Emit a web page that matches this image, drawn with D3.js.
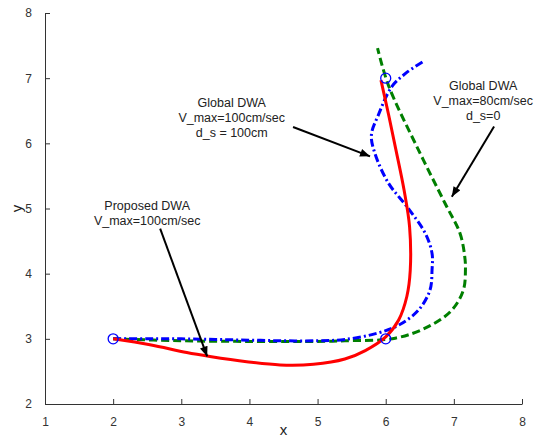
<!DOCTYPE html>
<html>
<head>
<meta charset="utf-8">
<script src="https://cdn.jsdelivr.net/npm/d3@7"></script>
<style>
  body { margin: 0; background: #fff; }
  text { font-family: "Liberation Sans", Arial, sans-serif; }
</style>
</head>
<body>
<div id="chart"></div>
<script>
// tick values
const xTicks = [1, 2, 3, 4, 5, 6, 7, 8];
const yTicks = [2, 3, 4, 5, 6, 7, 8];

// trajectories [x, y]
const proposedDwa = [[2, 3], [2.54, 2.91], [3.08, 2.79], [3.42, 2.73], [3.96, 2.65], [4.45, 2.6],
  [4.94, 2.61], [5.4, 2.69], [5.7, 2.82], [6.0, 3.03], [6.19, 3.29], [6.31, 3.65], [6.36, 4.05],
  [6.35, 4.72], [6.27, 5.28], [6.15, 5.9], [6.04, 6.45], [5.93, 6.97]];

const globalDwa100 = [[2, 3], [2.5, 3.0], [3, 3.0], [3.5, 2.99], [4, 2.98], [4.5, 2.97], [5, 2.97],
  [5.4, 2.99], [5.89, 3.09], [6.19, 3.21], [6.48, 3.44], [6.65, 3.75], [6.68, 4.06], [6.68, 4.31],
  [6.58, 4.62], [6.31, 5.03], [6.04, 5.39], [5.84, 5.85], [5.79, 6.13], [5.89, 6.43], [6.09, 6.87],
  [6.3, 7.08], [6.54, 7.25]];

const globalDwa80 = [[2, 3], [3, 2.97], [4, 2.96], [5, 2.96], [5.4, 2.97], [6.14, 3.01], [6.63, 3.19],
  [6.97, 3.44], [7.14, 3.75], [7.17, 4.06], [7.16, 4.26], [7.09, 4.62], [6.87, 5.08], [6.48, 5.9],
  [6.04, 6.89], [5.88, 7.46]];

// start / waypoint / goal markers
const waypoints = [[2, 3], [6, 3], [6, 7]];

// annotations: text lines, label anchor, arrow from -> to (data units)
const noteLabels = [
  ["Global DWA", "V_max=100cm/sec", "d_s = 100cm"],
  ["Global DWA", "V_max=80cm/sec", "d_s=0"],
  ["Proposed DWA", "V_max=100cm/sec"]
];
const noteAnchors = [[3.74, 6.62], [7.43, 6.89], [2.5, 5.04]];
const noteArrows = [
  [[4.64, 6.25], [5.77, 5.8]],
  [[7.59, 6.26], [6.97, 5.18]],
  [[2.69, 4.69], [3.38, 2.73]]
];

const margin = {top: 13, right: 20, bottom: 33, left: 45},
      width = 542 - margin.left - margin.right,
      height = 437 - margin.top - margin.bottom;

const svg = d3.select("#chart")
  .append("svg")
  .attr("width", 542)
  .attr("height", 437)
  .append("g")
  .attr("transform", `translate(${margin.left}, ${margin.top})`);

const x = d3.scaleLinear().domain([1, 8]).range([0, width]);
const y = d3.scaleLinear().domain([2, 8]).range([height, 0]);

// axes (ticks pointing inward)
const xAxis = svg.append("g")
  .attr("transform", `translate(0, ${height})`)
  .call(d3.axisBottom(x).tickValues(xTicks).tickFormat(d3.format("d"))
    .tickSize(-5).tickPadding(13).tickSizeOuter(0));
const yAxis = svg.append("g")
  .call(d3.axisLeft(y).tickValues(yTicks).tickFormat(d3.format("d"))
    .tickSize(-5).tickPadding(13).tickSizeOuter(0));

[xAxis, yAxis].forEach(a => {
  a.select(".domain").attr("stroke", "#333");
  a.selectAll(".tick line").attr("stroke", "#333");
  a.selectAll(".tick text")
    .attr("fill", "#333")
    .style("font-size", "12px")
    .style("font-family", "'Liberation Sans', Arial, sans-serif");
});

svg.append("text")
  .attr("x", width / 2)
  .attr("y", height + 31)
  .attr("text-anchor", "middle")
  .style("font-size", "15px")
  .attr("fill", "#222")
  .text("x");

svg.append("text")
  .attr("transform", "rotate(-90)")
  .attr("x", -y(5))
  .attr("y", -23)
  .attr("text-anchor", "middle")
  .style("font-size", "15px")
  .attr("fill", "#222")
  .text("y");

const line = d3.line()
  .x(d => x(d[0]))
  .y(d => y(d[1]))
  .curve(d3.curveCatmullRom.alpha(0.5));

svg.append("path")
  .datum(globalDwa80)
  .attr("d", line)
  .attr("fill", "none")
  .attr("stroke", "#007f00")
  .attr("stroke-width", 3)
  .attr("stroke-dasharray", "8,4");

svg.append("path")
  .datum(globalDwa100)
  .attr("d", line)
  .attr("fill", "none")
  .attr("stroke", "#0000ff")
  .attr("stroke-width", 3)
  .attr("stroke-dasharray", "8,3,2,3");

svg.append("path")
  .datum(proposedDwa)
  .attr("d", line)
  .attr("fill", "none")
  .attr("stroke", "#ff0000")
  .attr("stroke-width", 3);

svg.append("g")
  .selectAll("circle")
  .data(waypoints)
  .join("circle")
    .attr("cx", d => x(d[0]))
    .attr("cy", d => y(d[1]))
    .attr("r", 5)
    .attr("fill", "none")
    .attr("stroke", "#0000ff")
    .attr("stroke-width", 1.3);

// arrow head
svg.append("defs").append("marker")
  .attr("id", "head")
  .attr("viewBox", "0 0 10 8")
  .attr("refX", 10)
  .attr("refY", 4)
  .attr("markerWidth", 11)
  .attr("markerHeight", 8)
  .attr("markerUnits", "userSpaceOnUse")
  .attr("orient", "auto")
  .append("path")
  .attr("d", "M0,0L10,4L0,8Z")
  .attr("fill", "#000");

svg.append("g")
  .selectAll("line")
  .data(noteArrows)
  .join("line")
    .attr("x1", d => x(d[0][0]))
    .attr("y1", d => y(d[0][1]))
    .attr("x2", d => x(d[1][0]))
    .attr("y2", d => y(d[1][1]))
    .attr("stroke", "#000")
    .attr("stroke-width", 2)
    .attr("marker-end", "url(#head)");

noteLabels.forEach((lines, i) => {
  const t = svg.append("text")
    .attr("text-anchor", "middle")
    .attr("fill", "#222")
    .style("font-size", "12.5px");
  lines.forEach((s, j) => {
    t.append("tspan")
      .attr("x", x(noteAnchors[i][0]))
      .attr("y", y(noteAnchors[i][1]) + 4.5 + j * 15)
      .text(s);
  });
});
</script>
</body>
</html>
